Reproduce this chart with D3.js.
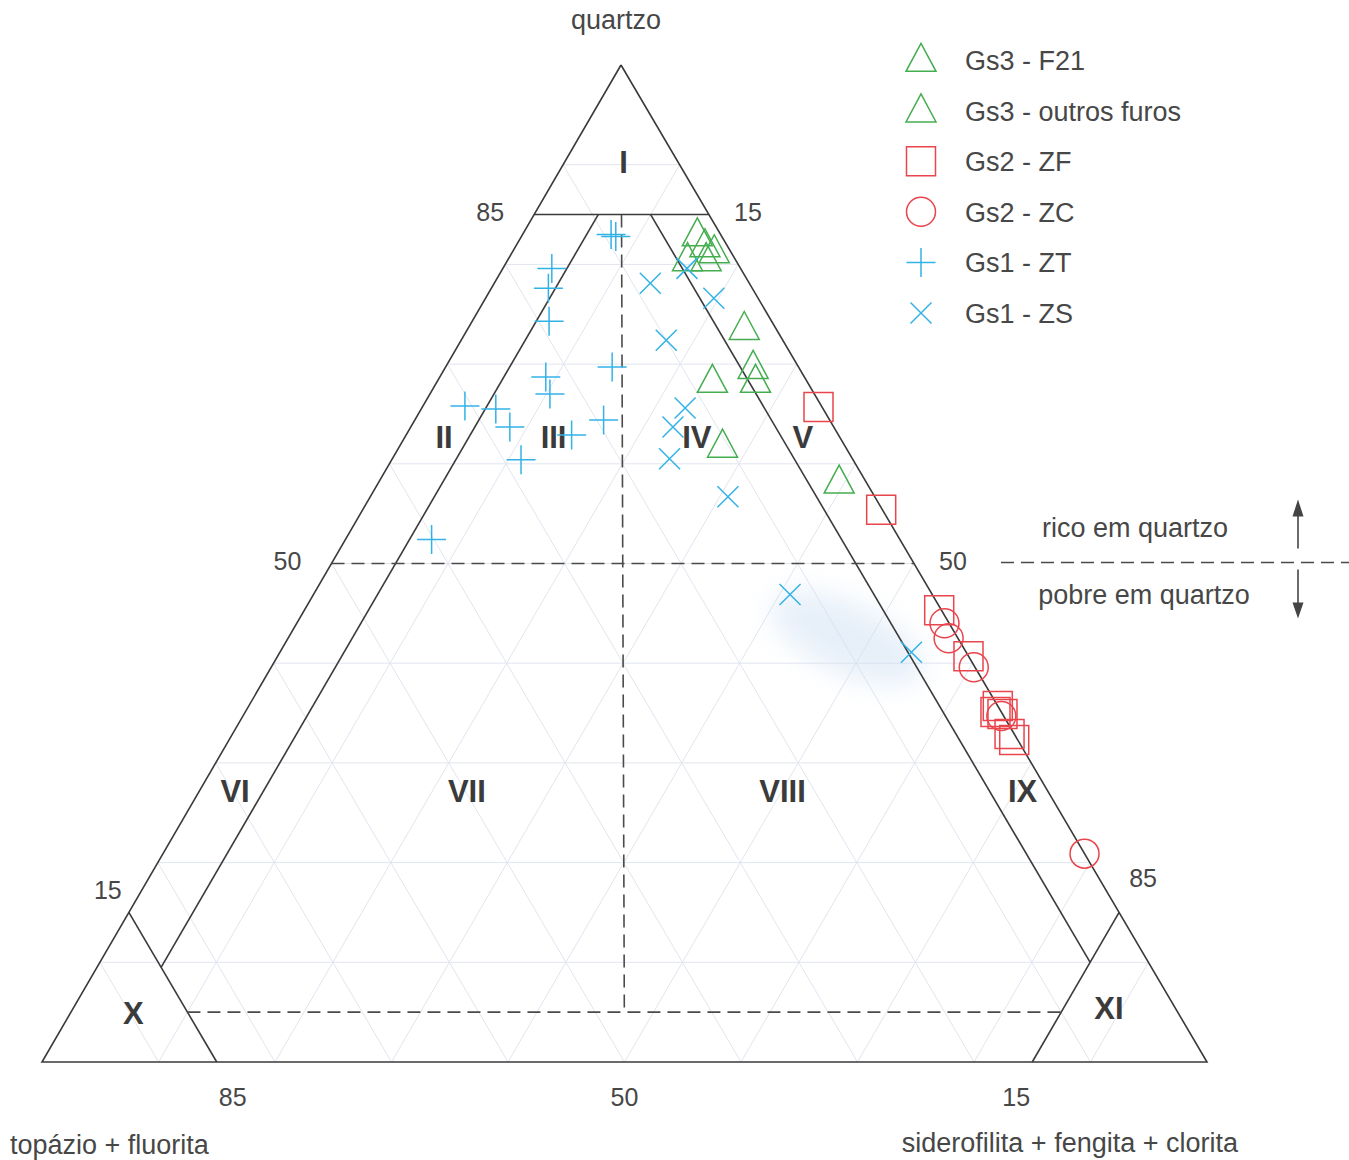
<!DOCTYPE html>
<html>
<head>
<meta charset="utf-8">
<script src="https://cdn.jsdelivr.net/npm/d3@7"></script>
<style>
  html, body { margin: 0; padding: 0; background: #ffffff; }
  svg { display: block; font-family: "Liberation Sans", Arial, Helvetica, sans-serif; }
</style>
</head>
<body>
<svg id="chart" width="1349" height="1160"></svg>
<script>
// Modal compositions, in % : [quartzo, topázio + fluorita, siderofilita + fengita + clorita]
const gs3F21 = [[82.8,2.1,15.1],[81.7,2.0,16.3],[81.1,1.5,17.4],[80.3,4.2,15.5],[80.3,2.6,17.1]];
const gs3Outros = [[73.4,2.8,23.8],[69.5,4.0,26.5],[68.1,4.5,27.4],[68.1,8.2,23.7],[61.6,10.6,27.8],[58.0,2.4,39.6]];
const gs2ZF = [[65.7,0.3,34.0],[55.4,0.1,44.5],[45.3,0.2,54.5],[40.7,0.0,59.3],[35.7,0.0,64.3],
               [35.1,0.5,64.4],[34.9,0.0,65.1],[32.9,0.4,66.7],[32.3,0.3,67.4]];
const gs2ZC = [[44.0,0.4,55.6],[42.5,0.8,56.7],[39.6,0.1,60.3],[34.7,0.2,65.1],[20.9,0.0,79.1]];
const gs1ZT = [[83.0,9.4,7.6],[82.8,9.1,8.1],[79.6,16.2,4.2],[77.6,17.5,4.9],[74.3,19.1,6.6],
               [69.7,16.0,14.3],[68.7,22.2,9.1],[67.0,22.7,10.3],[65.8,30.6,3.6],[65.5,28.1,6.4],
               [63.7,27.8,8.5],[62.9,22.9,14.2],[64.4,19.4,16.2],[60.4,28.5,11.1],[52.4,40.2,7.4]];
const gs1ZS = [[78.1,8.5,13.4],[79.6,4.6,15.8],[76.6,3.8,19.6],[72.4,10.0,17.6],[65.6,11.8,22.6],
               [63.7,13.8,22.5],[60.5,15.7,23.8],[56.7,12.6,30.7],[46.9,12.2,40.9],[41.1,4.7,54.2]];

const seriesNames = ["Gs3 - F21","Gs3 - outros furos","Gs2 - ZF","Gs2 - ZC","Gs1 - ZT","Gs1 - ZS"];
const regionNames = ["I","II","III","IV","V","VI","VII","VIII","IX","X","XI"];
const quartzTicks = [85, 50, 15];   // left side
const micaTicks   = [15, 50, 85];   // right side
const topazTicks  = [85, 50, 15];   // base

// ---- geometry -------------------------------------------------------------
const svg = d3.select("#chart");
const V = { T: [621, 65], L: [42, 1062], R: [1207, 1062] };
const yS = d3.scaleLinear().domain([0, 100]).range([V.L[1], V.T[1]]);
const xS = d3.scaleLinear().domain([0, 100]).range([V.L[0], V.R[0]]);
const kx = (V.T[0] - V.L[0]) / (V.R[0] - V.L[0]);
function proj(c) {
  const s = c[0] + c[1] + c[2];
  const q = c[0] / s * 100, m = c[2] / s * 100;
  return [xS(m + kx * q), yS(q)];
}
const line = d3.line();
const ink = "#3a3a3a";
const txt = "#474747";

// ---- faint 10 % grid ------------------------------------------------------
const grid = svg.append("g").attr("stroke", "#e1e5ef").attr("stroke-width", 1).attr("fill", "none");
d3.range(10, 100, 10).forEach(i => {
  grid.append("path").attr("d", line([proj([i, 100 - i, 0]), proj([i, 0, 100 - i])]));
  grid.append("path").attr("d", line([proj([0, 100 - i, i]), proj([100 - i, 0, i])]));
  grid.append("path").attr("d", line([proj([0, i, 100 - i]), proj([100 - i, i, 0])]));
});

// soft bluish smudge behind the two low-quartz ZS samples
const defs = svg.append("defs");
defs.append("filter").attr("id", "soft").attr("x", "-60%").attr("y", "-60%").attr("width", "220%").attr("height", "220%")
  .append("feGaussianBlur").attr("stdDeviation", 14);
const smudgeC = proj([42.5, 9.5, 48]);
svg.append("ellipse")
  .attr("cx", smudgeC[0]).attr("cy", smudgeC[1]).attr("rx", 82).attr("ry", 34)
  .attr("transform", `rotate(25 ${smudgeC[0]} ${smudgeC[1]})`)
  .attr("fill", "#cddff3").attr("opacity", 0.5).attr("filter", "url(#soft)");

// ---- field boundaries -----------------------------------------------------
const solid = [
  [[100,0,0],[0,100,0],[0,0,100],[100,0,0]],      // outer triangle
  [[85,15,0],[85,0,15]],                            // Q = 85
  [[85,9.5,5.5],[9.5,85,5.5]],                      // II|III, VI|VII
  [[85,5,10],[10,5,85]],                            // IV|V, VIII|IX
  [[15,85,0],[0,85,15]],                            // field X
  [[15,0,85],[0,15,85]]                             // field XI
];
const dashed = [
  [[85,7.5,7.5],[5,47.5,47.5]],                     // TF = M
  [[50,50,0],[50,0,50]],                            // Q = 50
  [[5,85,10],[5,10,85]]                             // Q = 5
];
svg.append("g").attr("fill", "none").attr("stroke", ink).attr("stroke-width", 1.6)
  .selectAll("path").data(solid).join("path").attr("d", d => line(d.map(proj)))
  .attr("stroke-linejoin", "miter");
svg.append("g").attr("fill", "none").attr("stroke", "#4a4a4a").attr("stroke-width", 1.6)
  .attr("stroke-dasharray", "13,7")
  .selectAll("path").data(dashed).join("path").attr("d", d => line(d.map(proj)));

// ---- field labels ---------------------------------------------------------
const regionAt = [[90.2,4.7,5.1],[62.6,34.0,3.4],[62.6,24.6,12.8],[62.6,12.3,25.1],[62.6,3.2,34.2],
                  [27.1,69.8,3.1],[27.1,49.9,23.0],[27.1,22.8,50.1],[27.1,2.2,70.7],
                  [4.9,89.7,5.4],[5.4,5.7,88.9]];
svg.append("g").attr("fill", "#3b3b3b").attr("font-weight", "bold").attr("font-size", 31)
  .attr("text-anchor", "middle").attr("dominant-baseline", "central")
  .selectAll("text").data(regionNames).join("text")
  .attr("x", (d, i) => proj(regionAt[i])[0]).attr("y", (d, i) => proj(regionAt[i])[1])
  .text(d => d);

// ---- edge values and vertex names ------------------------------------------
const tickG = svg.append("g").attr("fill", txt).attr("font-size", 25)
  .attr("text-anchor", "middle").attr("dominant-baseline", "central");
quartzTicks.forEach(v => {
  const p = proj([v, 100 - v, 0]);
  const off = v === 15 ? [-21, -22] : [-44, -3];
  tickG.append("text").attr("x", p[0] + off[0]).attr("y", p[1] + off[1]).text(v);
});
micaTicks.forEach(v => {
  const p = proj([100 - v, 0, v]);
  const off = v === 85 ? [24, -34] : [39, -3];
  tickG.append("text").attr("x", p[0] + off[0]).attr("y", p[1] + off[1]).text(v);
});
topazTicks.forEach(v => {
  const p = proj([0, v, 100 - v]);
  const dx = v > 50 ? 16 : v < 50 ? -16 : 0;
  tickG.append("text").attr("x", p[0] + dx).attr("y", p[1] + 35).text(v);
});

const titleG = svg.append("g").attr("fill", txt).attr("font-size", 27).attr("dominant-baseline", "central");
titleG.append("text").attr("x", V.T[0] - 5).attr("y", V.T[1] - 45).attr("text-anchor", "middle").text("quartzo");
titleG.append("text").attr("x", V.L[0] - 32).attr("y", V.L[1] + 83).attr("text-anchor", "start").text("topázio + fluorita");
titleG.append("text").attr("x", V.R[0] + 31).attr("y", V.R[1] + 81).attr("text-anchor", "end").text("siderofilita + fengita + clorita");

// ---- rich / poor in quartz annotation ---------------------------------------
const y50 = yS(50);
svg.append("line").attr("x1", 1001).attr("x2", 1349).attr("y1", y50 - 1).attr("y2", y50 - 1)
  .attr("stroke", "#4a4a4a").attr("stroke-width", 1.6).attr("stroke-dasharray", "13,7");
titleG.append("text").attr("x", 1135).attr("y", y50 - 36).attr("text-anchor", "middle").text("rico em quartzo");
titleG.append("text").attr("x", 1144).attr("y", y50 + 31).attr("text-anchor", "middle").text("pobre em quartzo");
const ax = 1298;
const arrows = svg.append("g").attr("stroke", "#444").attr("fill", "#444").attr("stroke-width", 1.6);
arrows.append("line").attr("x1", ax).attr("x2", ax).attr("y1", y50 - 15).attr("y2", y50 - 48);
arrows.append("path").attr("stroke", "none").attr("d", `M${ax},${y50 - 64}L${ax + 5.5},${y50 - 47}L${ax - 5.5},${y50 - 47}Z`);
arrows.append("line").attr("x1", ax).attr("x2", ax).attr("y1", y50 + 6).attr("y2", y50 + 40);
arrows.append("path").attr("stroke", "none").attr("d", `M${ax},${y50 + 55}L${ax + 5.5},${y50 + 39}L${ax - 5.5},${y50 + 39}Z`);

// ---- markers ----------------------------------------------------------------
const green = "#45ad50", red = "#e9454c", blue = "#33b2e6";
const shapes = {
  tri:    "M0,-18.7L15,9.3L-15,9.3Z",
  square: "M-14.5,-14.5H14.5V14.5H-14.5Z",
  circle: "M14.5,0A14.5,14.5 0 1 1 -14.5,0A14.5,14.5 0 1 1 14.5,0Z",
  plus:   "M-14.5,0H14.5M0,-14.5V14.5",
  cross:  "M-10.5,-10.5L10.5,10.5M-10.5,10.5L10.5,-10.5"
};
const series = [
  { data: gs3F21,    shape: "tri",    color: green },
  { data: gs3Outros, shape: "tri",    color: green },
  { data: gs2ZF,     shape: "square", color: red },
  { data: gs2ZC,     shape: "circle", color: red },
  { data: gs1ZT,     shape: "plus",   color: blue },
  { data: gs1ZS,     shape: "cross",  color: blue }
];
series.forEach(s => {
  svg.append("g").attr("fill", "none").attr("stroke", s.color).attr("stroke-width", 1.5)
    .selectAll("path").data(s.data).join("path")
    .attr("d", shapes[s.shape])
    .attr("transform", d => `translate(${proj(d)[0]},${proj(d)[1]})`);
});

// ---- legend -------------------------------------------------------------------
const legY = d3.scaleLinear().domain([0, 5]).range([60, 313]);
const leg = svg.append("g");
series.forEach((s, i) => {
  const y = legY(i);
  leg.append("path").attr("d", shapes[s.shape])
    .attr("transform", `translate(921,${y + (s.shape === "tri" ? 2 : 0)})`)
    .attr("fill", "none").attr("stroke", s.color).attr("stroke-width", 1.5);
  leg.append("text").attr("x", 965).attr("y", y + 1).attr("dominant-baseline", "central")
    .attr("font-size", 27).attr("fill", txt).text(seriesNames[i]);
});
</script>
</body>
</html>
